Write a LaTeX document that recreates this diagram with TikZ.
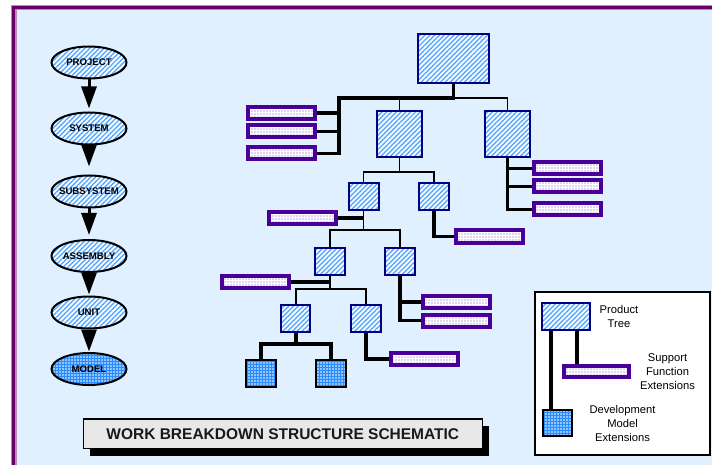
\documentclass[tikz,border=0pt]{standalone}
\usepackage{fontspec}
\setmainfont{Liberation Sans}
\usetikzlibrary{shapes.geometric,arrows.meta,patterns.meta,shadows}
\definecolor{bgblue}{RGB}{224,240,255}
\definecolor{framedark}{RGB}{102,0,102}
\definecolor{framelight}{RGB}{185,135,185}
\definecolor{stripe}{RGB}{85,168,255}
\definecolor{navy}{RGB}{0,0,128}
\definecolor{barpurple}{RGB}{72,0,152}
\definecolor{dotpurple}{RGB}{110,70,190}
\definecolor{modelblue}{RGB}{40,140,255}
\definecolor{titlegray}{RGB}{232,232,232}
\newcommand{\lvllabel}[1]{\makebox[0pt]{#1}}
\begin{document}
\begin{tikzpicture}[x=1pt,y=-1pt,
  striped/.style={preaction={fill=white}, pattern={Lines[angle=45,distance=3.4pt,line width=1.4pt]}, pattern color=stripe},
  dotted/.style={preaction={fill=modelblue}, pattern={Dots[distance=3pt,radius=0.85pt]}, pattern color=white},
  lvl/.style={ellipse, draw=black, line width=2pt, minimum width=75pt, minimum height=32pt, inner sep=0pt,
    font=\fontsize{9.6}{10}\selectfont\bfseries},
  prod/.style={rectangle, draw=navy, line width=2pt, inner sep=0pt, striped},
  modelbox/.style={rectangle, draw=black, line width=2pt, inner sep=0pt, dotted},
  supp/.style={rectangle, draw=barpurple, line width=4pt, minimum width=67pt, minimum height=12pt, inner sep=0pt,
    preaction={fill=white}, pattern={Dots[distance=3pt,radius=0.6pt]}, pattern color=dotpurple},
  thn/.style={line width=1.7pt, draw=black},
  thk/.style={line width=3.8pt, draw=black},
  flow/.style={line width=3pt, draw=black, -{Triangle[width=15pt,length=22pt]}},
  legtext/.style={align=center, inner sep=0pt, font=\fontsize{11.2}{14}\selectfont}
]
\useasboundingbox (0,0) rectangle (712,465);
\clip (0,0) rectangle (712,465);
\fill[white] (0,0) rectangle (712,465);
\fill[bgblue] (13.8,7.3) rectangle (740,490);
\draw[framelight, line width=5.5pt] (13.8,7.3) rectangle (740,490);
\draw[framedark, line width=3pt] (13.8,7.3) rectangle (740,490);

% level ellipses
\node[lvl, striped] (e1) at (89,62.5) {\lvllabel{PROJECT}};
\node[lvl, striped] (e2) at (89,128.5) {\lvllabel{SYSTEM}};
\node[lvl, striped] (e3) at (89,191.5) {\lvllabel{SUBSYSTEM}};
\node[lvl, striped] (e4) at (89,256) {\lvllabel{ASSEMBLY}};
\node[lvl, striped] (e5) at (89,312.5) {\lvllabel{UNIT}};
\node[lvl, dotted] (e6) at (89,369) {\lvllabel{MODEL}};
\draw[flow, shorten >=3pt] (e1.south) -- (e2.north);
\draw[flow, shorten >=8pt] (e2.south) -- (e3.north);
\draw[flow, shorten >=4pt] (e3.south) -- (e4.north);
\draw[flow, shorten >=1pt] (e4.south) -- (e5.north);
\draw[flow, shorten >=0.5pt] (e5.south) -- (e6.north);

% product tree boxes
\node[prod, minimum width=71pt, minimum height=49pt] (top) at (453.5,58.5) {};
\node[prod, minimum width=45pt, minimum height=46pt] (l1a) at (399.5,134) {};
\node[prod, minimum width=45pt, minimum height=46pt] (l1b) at (507.5,134) {};
\node[prod, minimum width=30pt, minimum height=27pt] (l2a) at (363.5,197) {};
\node[prod, minimum width=30pt, minimum height=27pt] (l2b) at (434,197) {};
\node[prod, minimum width=29.4pt, minimum height=26.7pt] (l3a) at (330,261.7) {};
\node[prod, minimum width=29.4pt, minimum height=26.7pt] (l3b) at (400,261.7) {};
\node[prod, minimum width=29.4pt, minimum height=26.7pt] (l4a) at (295.7,318.3) {};
\node[prod, minimum width=29.4pt, minimum height=26.7pt] (l4b) at (366,318.3) {};
\node[modelbox, minimum width=29.4pt, minimum height=27pt] (m1) at (261,373.8) {};
\node[modelbox, minimum width=29.4pt, minimum height=27pt] (m2) at (331,373.8) {};

% support function bars
\node[supp] (s1) at (281.5,113) {};
\node[supp] (s2) at (281.5,131.5) {};
\node[supp] (s3) at (281.5,153.5) {};
\node[supp] (s4) at (567.5,168.5) {};
\node[supp] (s5) at (567.5,186.5) {};
\node[supp] (s6) at (567.5,209.5) {};
\node[supp] (s7) at (302,218.3) {};
\node[supp] (s8) at (489.5,236.5) {};
\node[supp] (s9) at (255,281.8) {};
\node[supp] (s10) at (456.3,301.8) {};
\node[supp] (s11) at (456.3,320.5) {};
\node[supp] (s12) at (424.8,359.2) {};

% connectors
\coordinate (j0) at (453.5,98);
\coordinate (b0) at (339,98);
\coordinate (j1) at (399.5,172);
\coordinate (j2) at (363.5,230);
\coordinate (j3) at (330,289);
\coordinate (j4) at (295.7,344);
\draw[thn] (j0) -| (l1b.north);
\draw[thn] (l1a.north) -- (l1a.north |- j0);
\draw[thk] (top.south) -- (j0) -- (b0) |- (s3.east);
\draw[thk] (s1.east) -- (s1.east -| b0);
\draw[thk] (s2.east) -- (s2.east -| b0);
\draw[thk] (l1b.south) |- (s6.west);
\draw[thk] (s4.west) -- (s4.west -| l1b.south);
\draw[thk] (s5.west) -- (s5.west -| l1b.south);
\draw[thn] (l1a.south) -- (j1);
\draw[thn] (l2a.north) |- (j1) -| (l2b.north);
\draw[thn] (l2a.south) -- (j2);
\draw[thk] (s7.east) -- (s7.east -| j2);
\draw[thn] (l3a.north) |- (j2) -| (l3b.north);
\draw[thk] (l2b.south) |- (s8.west);
\draw[thn] (l3a.south) -- (j3);
\draw[thk] (s9.east) -- (s9.east -| j3);
\draw[thn] (l4a.north) |- (j3) -| (l4b.north);
\draw[thk] (l3b.south) |- (s11.west);
\draw[thk] (s10.west) -- (s10.west -| l3b.south);
\draw[thk] (l4a.south) -- (j4);
\draw[thk] (m1.north) |- (j4) -| (m2.north);
\draw[thk] (l4b.south) |- (s12.west);

% title
\node[draw=black, line width=1.2pt, fill=titlegray, minimum width=399pt, minimum height=29.5pt, inner sep=0pt,
  drop shadow={shadow xshift=6.5pt, shadow yshift=-7.5pt, fill=black, opacity=1},
  font=\fontsize{15.5}{18}\selectfont\bfseries, text=black!90] (title) at (282.8,433.7) {WORK BREAKDOWN STRUCTURE SCHEMATIC};

% legend
\node[draw=black, line width=1.5pt, fill=white, minimum width=175pt, minimum height=163pt, inner sep=0pt] (legend) at (622.5,373.5) {};
\node[prod, minimum width=48pt, minimum height=26.7pt] (lp) at (565.7,316.7) {};
\node[supp, minimum width=65pt, minimum height=11pt] (ls) at (596.2,371.5) {};
\node[modelbox, minimum width=29.6pt, minimum height=26.3pt] (lm) at (557.5,423.2) {};
\coordinate (la) at (550.7,0);
\coordinate (lb) at (576.7,0);
\draw[thk] (lp.south -| la) -- (lm.north -| la);
\draw[thk] (lp.south -| lb) -- (ls.north -| lb);
\node[legtext] (tp) at (619,316.3) {Product\\Tree};
\node[legtext] (ts) at (667.5,372) {Support\\Function\\Extensions};
\node[legtext] (tm) at (622.5,423.5) {Development\\Model\\Extensions};
\end{tikzpicture}
\end{document}
